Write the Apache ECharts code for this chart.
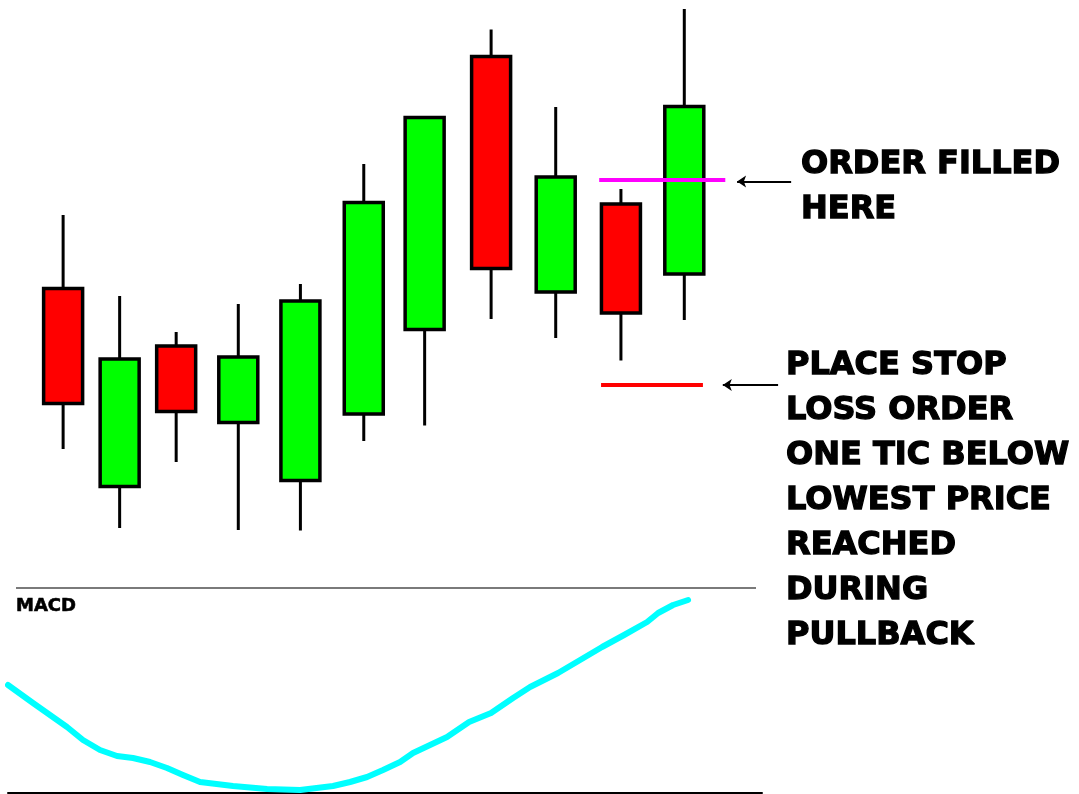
<!DOCTYPE html>
<html>
<head>
<meta charset="utf-8">
<style>
  html, body { margin: 0; padding: 0; background: #ffffff; }
  #chart { width: 1079px; height: 794px; }
</style>
<script src="https://cdn.jsdelivr.net/npm/echarts@6/dist/echarts.min.js"></script>
</head>
<body>
<div id="chart"></div>
<script>
// Bar positions (in bar units) and OHLC prices
const barPos   = [0, 0.91, 1.82, 2.82, 3.82, 4.84, 5.82, 6.89, 7.93, 8.98, 10.0];
const openVals = [27.15, 7.35, 21.4, 13.75, 7.95, 14.6, 23.05, 50.35, 26.8, 35.6, 28.6];
const closeVals= [15.65, 20.1, 14.85, 20.3, 25.9, 35.75, 44.25, 29.15, 38.3, 24.7, 45.35];
const lowVals  = [11.1, 3.2, 9.8, 3.0, 2.95, 11.9, 13.45, 24.1, 22.2, 19.95, 24.0];
const highVals = [34.5, 26.4, 22.8, 25.6, 27.6, 39.6, 44.25, 53.05, 45.3, 37.1, 55.1];

// Entry fill level and protective stop level
const fillPrice = 38.0;
const fillSpan  = [8.63, 10.66];
const fillArrow = [10.85, 11.72, 37.85];
const stopPrice = 17.5;
const stopSpan  = [8.66, 10.3];
const stopArrow = [10.62, 11.51, 17.5];

// MACD line
const macdX = [-0.887, -0.485, 0.063, 0.320, 0.594, 0.868, 1.125, 1.399, 1.672, 1.930, 2.204,
               2.735, 3.283, 3.814, 4.345, 4.619, 4.893, 5.150, 5.424, 5.633, 6.180, 6.535,
               6.889, 7.243, 7.517, 7.967, 8.322, 8.676, 9.030, 9.401, 9.578, 9.819, 10.060];
const macdY = [0.11, -0.25, -0.73, -0.99, -1.19, -1.31, -1.35, -1.43, -1.55, -1.69, -1.83,
               -1.91, -1.97, -1.99, -1.91, -1.83, -1.73, -1.59, -1.43, -1.25, -0.93, -0.63,
               -0.45, -0.15, 0.07, 0.35, 0.61, 0.87, 1.11, 1.37, 1.55, 1.71, 1.81];

// Annotation text
const fillNote = ['ORDER FILLED', 'HERE'];
const stopNote = ['PLACE STOP', 'LOSS ORDER', 'ONE TIC BELOW', 'LOWEST PRICE', 'REACHED', 'DURING', 'PULLBACK'];
const macdTitle = 'MACD';

const candleData = barPos.map((x, i) => [x, openVals[i], closeVals[i], lowVals[i], highVals[i]]);
const macdData = macdX.map((x, i) => [x, macdY[i]]);

const BIG_FONT = 'bold 32px "DejaVu Sans"';

// Heavy black caption lines (a thin outline thickens the strokes)
function noteTexts(lines, x, y0, step) {
  return lines.map((t, i) => ({
    type: 'text',
    x: x,
    y: y0 + i * step,
    silent: true,
    style: {
      text: t, font: BIG_FONT, fill: '#000', stroke: '#000', lineWidth: 1.3,
      verticalAlign: 'middle', align: 'left'
    }
  }));
}

function arrowMark(a) {
  return {
    silent: true,
    animation: false,
    symbol: ['arrow', 'none'],
    symbolSize: [9, 9],
    label: { show: false },
    lineStyle: { color: '#000', width: 2, type: 'solid' },
    emphasis: { disabled: true },
    data: [[{ coord: [a[0], a[2]] }, { coord: [a[1], a[2]] }]]
  };
}

const hiddenAxis = {
  show: false, axisLine: { show: false }, axisTick: { show: false },
  axisLabel: { show: false }, splitLine: { show: false }
};

const chart = echarts.init(document.getElementById('chart'), null, { renderer: 'canvas' });
chart.setOption({
  animation: false,
  backgroundColor: '#ffffff',
  grid: [
    { left: 1, right: 22, top: 0, height: 560 },
    { left: 8, right: 317, top: 588, bottom: 1 }
  ],
  xAxis: [
    Object.assign({ type: 'value', gridIndex: 0, min: -1, max: 16 }, hiddenAxis),
    {
      type: 'value', gridIndex: 1, min: -0.887, max: 11.25,
      axisLine: { show: true, onZero: false, lineStyle: { color: '#000', width: 2 } },
      axisTick: { show: false }, axisLabel: { show: false }, splitLine: { show: false }
    }
  ],
  yAxis: [
    Object.assign({ type: 'value', gridIndex: 0, min: 0, max: 56 }, hiddenAxis),
    Object.assign({ type: 'value', gridIndex: 1, min: -2.05, max: 2.05 }, hiddenAxis)
  ],
  series: [
    {
      type: 'custom',
      name: 'Price',
      xAxisIndex: 0, yAxisIndex: 0,
      silent: true,
      encode: { x: 0, y: [1, 2, 3, 4] },
      data: candleData,
      renderItem: function (params, api) {
        const x = api.value(0);
        const o = api.value(1), c = api.value(2), l = api.value(3), h = api.value(4);
        const pO = api.coord([x, o]);
        const pC = api.coord([x, c]);
        const pL = api.coord([x, l]);
        const pH = api.coord([x, h]);
        const w = 39;
        const top = Math.min(pO[1], pC[1]);
        const bot = Math.max(pO[1], pC[1]);
        const up = c >= o;
        const wick = { stroke: '#000', lineWidth: 3, lineCap: 'butt' };
        const children = [];
        if (pH[1] < top) {
          children.push({ type: 'line', shape: { x1: pH[0], y1: pH[1], x2: pH[0], y2: top }, style: wick });
        }
        if (pL[1] > bot) {
          children.push({ type: 'line', shape: { x1: pL[0], y1: bot, x2: pL[0], y2: pL[1] }, style: wick });
        }
        children.push({
          type: 'rect',
          shape: { x: pO[0] - w / 2, y: top, width: w, height: bot - top },
          style: { fill: up ? '#00ff00' : '#ff0000', stroke: '#000', lineWidth: 3.5 }
        });
        return { type: 'group', children: children };
      }
    },
    {
      type: 'line',
      name: 'Fill',
      xAxisIndex: 0, yAxisIndex: 0,
      silent: true,
      symbol: 'none',
      lineStyle: { color: '#ff00ff', width: 4 },
      data: [[fillSpan[0], fillPrice], [fillSpan[1], fillPrice]],
      markLine: arrowMark(fillArrow)
    },
    {
      type: 'line',
      name: 'Stop',
      xAxisIndex: 0, yAxisIndex: 0,
      silent: true,
      symbol: 'none',
      lineStyle: { color: '#ff0000', width: 4 },
      data: [[stopSpan[0], stopPrice], [stopSpan[1], stopPrice]],
      markLine: arrowMark(stopArrow)
    },
    {
      type: 'line',
      name: 'MACD',
      xAxisIndex: 1, yAxisIndex: 1,
      silent: true,
      symbol: 'none',
      smooth: false,
      lineStyle: { color: '#00ffff', width: 6, cap: 'round', join: 'round' },
      data: macdData
    }
  ],
  graphic: [
    {
      type: 'line',
      silent: true,
      shape: { x1: 16, y1: 588, x2: 756, y2: 588 },
      style: { stroke: '#7a7a7a', lineWidth: 2 }
    },
    {
      type: 'text',
      x: 16, y: 606,
      silent: true,
      style: {
        text: macdTitle, font: 'bold 18px "DejaVu Sans"', fill: '#000',
        stroke: '#000', lineWidth: 0.6, verticalAlign: 'middle'
      }
    }
  ].concat(noteTexts(fillNote, 801, 165, 45))
   .concat(noteTexts(stopNote, 786, 366, 45))
});
</script>
</body>
</html>
